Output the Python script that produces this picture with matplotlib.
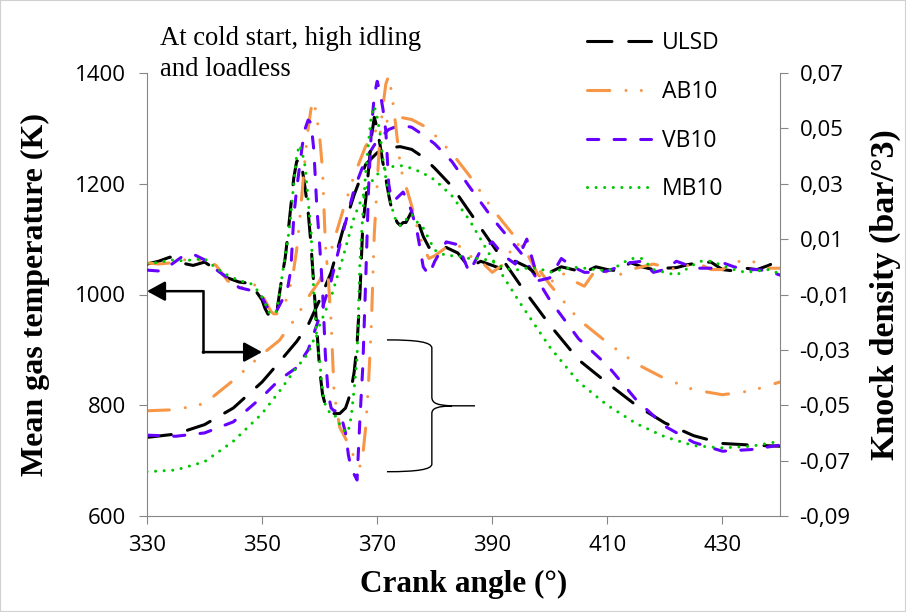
import matplotlib
matplotlib.use("Agg")
import matplotlib.pyplot as plt
from matplotlib.path import Path
from matplotlib.patches import PathPatch, Rectangle

plt.rcParams['font.family'] = ['Open Sans', 'DejaVu Sans']

# ---- data ----
fuels = ['ULSD', 'AB10', 'VB10', 'MB10']

# mean gas temperature (K), left axis
angle_t = [330, 335, 340, 345, 350, 353, 356, 358, 360, 362, 364, 366, 368, 370, 372, 374,
           376, 378, 380, 383, 386, 390, 395, 400, 405, 410, 415, 420, 425, 430, 435, 440]
temp_ulsd = [742, 748, 765, 795, 842, 878, 915, 945, 990, 1040, 1115, 1180, 1235, 1256, 1265, 1267,
             1262, 1248, 1228, 1195, 1150, 1090, 1015, 945, 882, 840, 800, 768, 745, 731, 728, 726]
temp_ab10 = [790, 792, 803, 845, 892, 917, 960, 995, 1025, 1080, 1150, 1215, 1268, 1300, 1315, 1320,
             1316, 1305, 1288, 1255, 1215, 1155, 1090, 1018, 955, 913, 875, 848, 828, 819, 826, 842]
temp_vb10 = [746, 744, 750, 770, 815, 846, 868, 900, 960, 1025, 1110, 1190, 1245, 1278, 1298, 1306,
             1302, 1288, 1272, 1240, 1195, 1138, 1075, 990, 920, 872, 810, 762, 733, 717, 720, 728]
temp_mb10 = [680, 683, 698, 735, 785, 825, 868, 893, 945, 995, 1065, 1140, 1190, 1217, 1230, 1233,
             1228, 1219, 1207, 1178, 1135, 1064, 982, 905, 842, 800, 767, 743, 727, 723, 726, 735]

# knock density (bar/deg^3), right axis
angle_k = [330, 332, 334, 336, 338, 340, 342, 344, 346, 348, 349,
           350, 350.5, 351, 351.5, 352, 352.5, 353, 353.5, 354, 354.5,
           355, 355.5, 356, 356.5, 357, 357.5, 358, 358.5, 359, 359.5,
           360, 360.5, 361, 361.5, 362, 362.5, 363, 363.5, 364, 364.5,
           365, 365.5, 366, 366.5, 367, 367.5, 368, 368.5, 369, 369.5,
           370, 370.5, 371, 371.5, 372, 372.5, 373, 373.5, 374, 374.5,
           375, 376, 377, 378, 379, 380,
           382, 384, 386, 388, 390, 392, 394, 396, 398, 400,
           402, 404, 406, 408, 410, 412, 414, 416, 418, 420,
           422, 424, 426, 428, 430, 432, 434, 436, 438, 440]
knock_ulsd = [0.001, 0.002, 0.0035, 0.0014, 0.0005, 0.0017, -0.001, -0.004, -0.0055, -0.006, -0.009,
              -0.012, -0.015, -0.017, -0.018, -0.018, -0.017, -0.010, -0.003, 0.003, 0.012,
              0.022, 0.032, 0.038, 0.039, 0.035, 0.028, 0.020, 0.008, -0.007, -0.022,
              -0.037, -0.046, -0.050, -0.052, -0.052, -0.053, -0.053, -0.053, -0.052, -0.051,
              -0.048, -0.044, -0.038, -0.028, -0.010, 0.015, 0.024, 0.035, 0.047, 0.054,
              0.050, 0.044, 0.0375, 0.032, 0.026, 0.021, 0.018, 0.016, 0.015, 0.016,
              0.016, 0.020, 0.017, 0.011, 0.007, 0.007,
              0.007, 0.005, -0.0002, 0.002, 0.0005, -0.001, 0.002, 0.000, -0.003, -0.002,
              0.000, -0.001, -0.002, 0.000, -0.001, -0.0015, 0.0015, 0.000, -0.001, -0.0005,
              -0.0003, 0.0008, 0.0015, 0.0017, -0.001, -0.0015, -0.0005, -0.001, 0.0005, 0.0025]
knock_ab10 = [0.0014, 0.001, 0.0014, 0.0028, 0.0018, 0.0028, 0.0005, -0.005, -0.008, -0.0055, -0.007,
              -0.010, -0.012, -0.014, -0.016, -0.017, -0.017, -0.016, -0.015, -0.013, -0.010,
              -0.006, -0.001, 0.006, 0.016, 0.028, 0.040, 0.050, 0.057, 0.060, 0.054,
              0.047, 0.035, 0.008, -0.004, -0.020, -0.045, -0.052, -0.058, -0.060, -0.062,
              -0.064, -0.066, -0.069, -0.072, -0.072, -0.068, -0.058, -0.042, -0.020, 0.012,
              0.030, 0.048, 0.058, 0.066, 0.069, 0.063, 0.055, 0.046, 0.037, 0.032,
              0.029, 0.022, 0.014, 0.007, 0.003, 0.004,
              0.007, 0.008, 0.004, 0.002, -0.002, 0.001, 0.009, 0.005, -0.003, -0.006,
              -0.002, -0.005, -0.007, -0.001, -0.002, -0.003, -0.001, 0.000, 0.001, 0.000,
              -0.001, 0.0005, 0.001, -0.001, -0.001, 0.0015, 0.0025, 0.0015, -0.0005, -0.0005]
knock_vb10 = [-0.0012, -0.0015, 0.0005, 0.0035, 0.0046, 0.0025, -0.001, -0.004, -0.0075, -0.0085, -0.009,
              -0.011, -0.013, -0.015, -0.017, -0.017, -0.016, -0.014, -0.012, -0.010, -0.007,
              -0.001, 0.018, 0.028, 0.036, 0.044, 0.050, 0.053, 0.052, 0.042, 0.022,
              0.008, -0.008, -0.032, -0.046, -0.051, -0.052, -0.052, -0.054, -0.056, -0.060,
              -0.068, -0.073, -0.075, -0.077, -0.055, -0.036, -0.005, 0.028, 0.050, 0.062,
              0.067, 0.063, 0.057, 0.049, 0.030, 0.024, 0.024, 0.025, 0.026, 0.027,
              0.025, 0.020, 0.012, 0.000, -0.003, 0.002,
              0.009, 0.008, -0.002, 0.006, 0.009, 0.004, 0.001, 0.010, -0.005, -0.004,
              0.003, 0.000, -0.002, -0.002, -0.0015, 0.000, 0.0015, 0.002, -0.002, -0.001,
              0.002, 0.0005, -0.0005, -0.0005, 0.0015, 0.000, -0.001, -0.001, -0.0015, -0.003]
knock_mb10 = [0.0014, 0.0015, 0.0025, 0.0022, 0.0025, 0.0030, -0.0005, -0.003, -0.005, -0.006, -0.008,
              -0.011, -0.013, -0.016, -0.017, -0.017, -0.016, -0.010, -0.003, 0.004, 0.010,
              0.019, 0.030, 0.040, 0.044, 0.041, 0.036, 0.024, 0.013, -0.010, -0.026,
              -0.034, -0.045, -0.050, -0.052, -0.053, -0.053, -0.055, -0.057, -0.058, -0.060,
              -0.059, -0.054, -0.044, -0.033, 0.002, 0.019, 0.034, 0.045, 0.055, 0.058,
              0.054, 0.048, 0.039, 0.032, 0.026, 0.022, 0.018, 0.016, 0.015, 0.016,
              0.017, 0.019, 0.016, 0.014, 0.010, 0.006,
              0.004, 0.004, 0.003, 0.003, 0.002, -0.0005, -0.0012, -0.0005, -0.0005, -0.002,
              -0.001, -0.0001, -0.0005, -0.001, -0.0015, 0.0005, 0.003, 0.003, -0.001, -0.002,
              -0.003, -0.0005, 0.002, 0.002, 0.0005, -0.001, -0.002, -0.0015, -0.001, -0.0025]

x_ticks = [330, 350, 370, 390, 410, 430]
temp_ticks = [600, 800, 1000, 1200, 1400]
knock_ticks = [-0.09, -0.07, -0.05, -0.03, -0.01, 0.01, 0.03, 0.05, 0.07]

temps = [temp_ulsd, temp_ab10, temp_vb10, temp_mb10]
knocks = [knock_ulsd, knock_ab10, knock_vb10, knock_mb10]

# line looks (dash lengths in linewidth units, round caps)
colors = ['black', '#F79646', '#6600FF', '#00C800']
dashes = [(8.0, 5.5), (7.3, 5.3, 0.01, 5.0, 0.01, 5.3), (3.7, 5.0), (0.01, 2.8)]
LW = 2.2
GRAY = '#868686'

fig = plt.figure(figsize=(9.06, 6.12), dpi=100)
ax = fig.add_axes([147 / 906, 1 - 516 / 612, 633 / 906, 443 / 612])
ax2 = ax.twinx()

handles = []
for i, name in enumerate(fuels):
    ln, = ax.plot(angle_t, temps[i], color=colors[i], lw=LW, dashes=dashes[i],
                  dash_capstyle='round', label=name)
    ax2.plot(angle_k, knocks[i], color=colors[i], lw=LW, dashes=dashes[i],
             dash_capstyle='round')
    handles.append(ln)

ax.set_xlim(330, 440)
ax.set_ylim(600, 1400)
ax2.set_ylim(-0.09, 0.07)
ax.set_xticks(x_ticks)
ax.set_yticks(temp_ticks)
ax2.set_yticks(knock_ticks)
ax2.set_yticklabels([f"{v:.2f}".replace('.', ',') for v in knock_ticks])

for a in (ax, ax2):
    a.spines['top'].set_visible(False)
    for s in a.spines.values():
        s.set_color(GRAY)
ax.spines['right'].set_visible(False)
ax2.spines['left'].set_visible(False)
ax2.spines['bottom'].set_visible(False)

ax.tick_params(axis='x', direction='out', length=6, color=GRAY, labelsize=16, pad=8)
ax.tick_params(axis='y', direction='out', length=6, color=GRAY, labelsize=16, pad=9)
ax2.tick_params(axis='y', direction='out', length=6, color=GRAY, labelsize=16, pad=8)

serif = dict(family='Liberation Serif', fontweight='bold')
ax.set_xlabel('Crank angle (°)', labelpad=10, fontsize=22.5, **serif)
ax.set_ylabel('Mean gas temperature (K)', labelpad=18, fontsize=23, **serif)
ax2.set_ylabel('Knock density (bar/°3)', labelpad=14, fontsize=24.5, **serif)

fig.legend(handles, fuels, loc='upper left', bbox_to_anchor=(578 / 906, 1 - 22 / 612),
           frameon=False, fontsize=16.5, handlelength=2.8, handletextpad=0.45,
           labelspacing=1.08, borderaxespad=0)

fig.text(160 / 906, 1 - 26 / 612, 'At cold start, high idling\nand loadless',
         ha='left', va='top', family='Liberation Serif', fontsize=19.2, linespacing=1.3)

# arrows pointing the temperature curves to the left axis
arrow_kw = dict(arrowstyle='-|>,head_length=0.55,head_width=0.3', color='black',
                lw=1.8, shrinkA=0, shrinkB=0, mutation_scale=20)
ax.annotate('', xy=(330, 1006), xytext=(339.7, 1006), arrowprops=arrow_kw,
            annotation_clip=False)
ax.annotate('', xy=(350, 896), xytext=(339.7, 896), arrowprops=arrow_kw)
ax.plot([339.7, 339.7], [1006, 896], color='black', lw=1.8, solid_capstyle='projecting')

# curly brace marking the knock curves
brace = Path([(371.7, 918), (377, 918), (379.5, 914), (379.5, 903),
              (379.5, 815),
              (379.5, 803), (380.5, 800), (383, 799),
              (387.0, 799),
              (383, 799),
              (380.5, 798), (379.5, 795), (379.5, 785),
              (379.5, 694),
              (379.5, 684), (377, 680), (371.7, 680)],
             [Path.MOVETO, Path.CURVE4, Path.CURVE4, Path.CURVE4,
              Path.LINETO,
              Path.CURVE4, Path.CURVE4, Path.CURVE4,
              Path.LINETO,
              Path.MOVETO,
              Path.CURVE4, Path.CURVE4, Path.CURVE4,
              Path.LINETO,
              Path.CURVE4, Path.CURVE4, Path.CURVE4])
ax.add_patch(PathPatch(brace, fill=False, lw=1.0, edgecolor='black'))

fig.patches.append(Rectangle((0, 0), 1, 1, transform=fig.transFigure, fill=False,
                             edgecolor='#d0d0d0', lw=1.5))

fig.savefig('out.png', dpi=100)
